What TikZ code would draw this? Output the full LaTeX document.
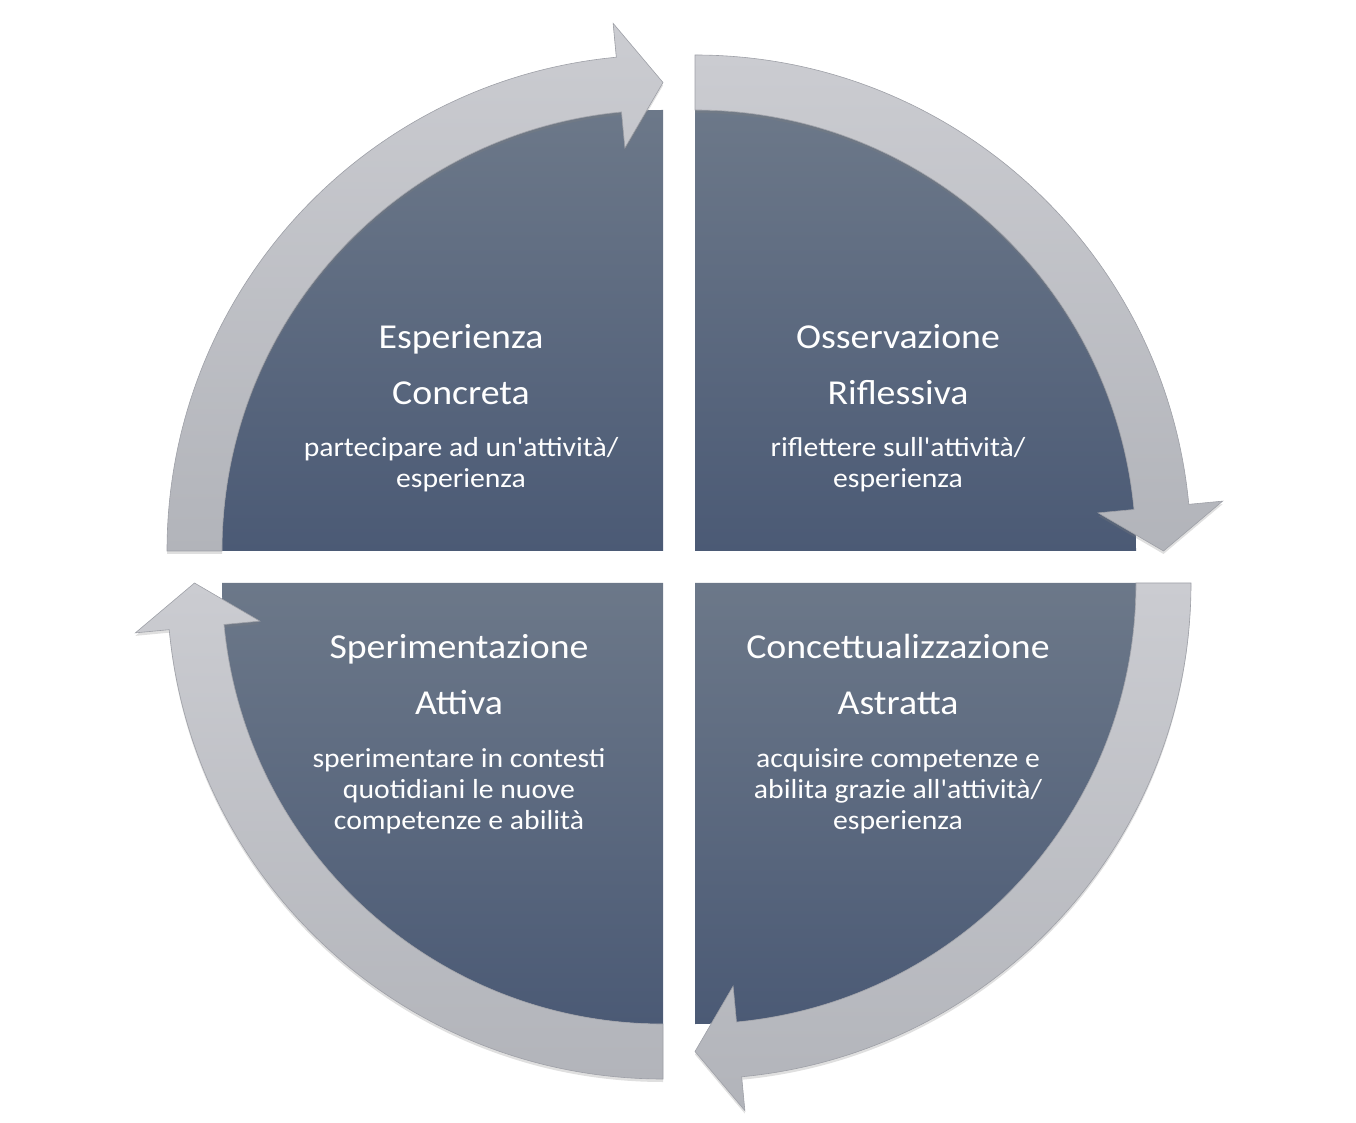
\documentclass[tikz,border=0pt]{standalone}
\usepackage{fontspec}
\newfontfamily\cyclefont{Carlito}[FakeStretch=1.08]
\usetikzlibrary{calc,shadows}

\definecolor{sectortop}{RGB}{108,120,137}
\definecolor{sectormid}{RGB}{90,104,128}
\definecolor{sectorbottom}{RGB}{75,90,117}
\definecolor{bandtop}{RGB}{203,204,209}
\definecolor{bandbottom}{RGB}{178,180,186}
\definecolor{bandedge}{RGB}{158,160,167}

\tikzset{
  sector/.style={top color=sectortop, middle color=sectormid, bottom color=sectorbottom},
  band/.style={top color=bandtop, bottom color=bandbottom, draw=bandedge, line width=0.6pt,
    drop shadow={opacity=0.25, shadow xshift=0pt, shadow yshift=-3pt}},
  title/.style={text=white, align=center, anchor=base, font=\cyclefont\fontsize{35}{56}\selectfont},
  body/.style={text=white, align=center, anchor=base, font=\cyclefont\fontsize{27.5}{31}\selectfont},
}

\begin{document}
\begin{tikzpicture}[x=1pt, y=1pt]
  \useasboundingbox (0,0) rectangle (1356,1122);

  % corners of the four quarters
  \coordinate (tl) at (663,571);
  \coordinate (tr) at (695,571);
  \coordinate (br) at (695,539);
  \coordinate (bl) at (663,539);

  % Quarters
  \foreach \c/\a in {tl/180, tr/90, br/0, bl/-90}{
    \shade[sector, shift={(\c)}] (0,0) -- (\a:441) arc[start angle=\a, end angle=\a-90, radius=441] -- cycle;
  }

  % Arrows round the quarters
  \foreach \c/\a in {tl/180, tr/90, br/0, bl/-90}{
    \path[band, shift={(\c)}] (\a:441) -- (\a:496)
      arc[start angle=\a, end angle=\a-84.6, radius=496]
      -- (\a-84.6:530) -- (\a-90:468.5) -- (\a-84.6:405) -- (\a-84.6:441)
      arc[start angle=\a-84.6, end angle=\a, radius=441] -- cycle;
  }

  \node[title] (tlhead) at (461,717) {Esperienza\\Concreta};
  \node[body] (tltext) at (461,634) {partecipare ad un'attività/\\esperienza};

  \node[title] (trhead) at (898,717) {Osservazione\\Riflessiva};
  \node[body] (trtext) at (898,634) {riflettere sull'attività/\\esperienza};

  \node[title] (blhead) at (459,407) {Sperimentazione\\Attiva};
  \node[body] (bltext) at (459,293) {sperimentare in contesti\\quotidiani le nuove\\competenze e abilità};

  \node[title] (brhead) at (898,407) {Concettualizzazione\\Astratta};
  \node[body] (brtext) at (898,293) {acquisire competenze e\\abilita grazie all'attività/\\esperienza};
\end{tikzpicture}
\end{document}
